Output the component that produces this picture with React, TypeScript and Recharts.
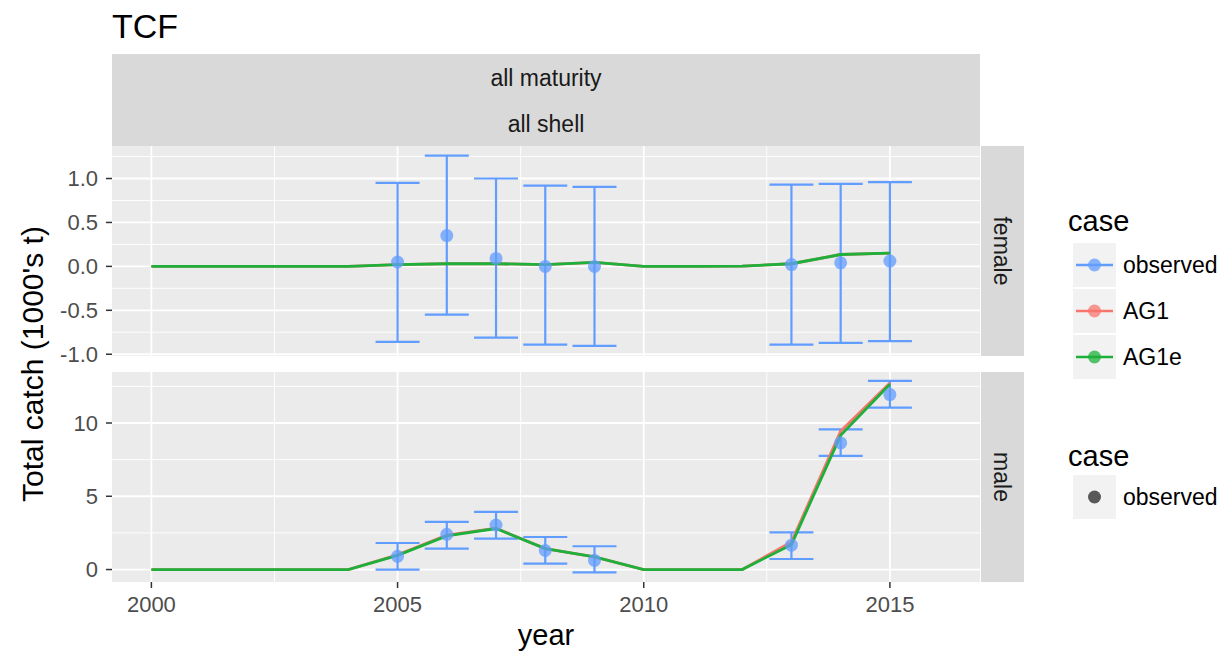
import React from "react";
import {
  ComposedChart,
  Line,
  Scatter,
  ErrorBar,
  XAxis,
  YAxis,
  CartesianGrid,
} from "recharts";

const FONT = '"Liberation Sans", Arial, Helvetica, sans-serif';

// model years and observed years
const years = [2000, 2001, 2002, 2003, 2004, 2005, 2006, 2007, 2008, 2009, 2010, 2011, 2012, 2013, 2014, 2015];
const obsYears = [2005, 2006, 2007, 2008, 2009, 2013, 2014, 2015];

// female panel
const femaleObs = [0.05, 0.35, 0.09, 0.0, 0.0, 0.02, 0.04, 0.06];
const femaleLo = [-0.86, -0.55, -0.81, -0.89, -0.905, -0.89, -0.87, -0.85];
const femaleHi = [0.95, 1.26, 1.0, 0.92, 0.905, 0.93, 0.94, 0.96];
const femaleAG1 = [0, 0, 0, 0, 0, 0.02, 0.03, 0.03, 0.02, 0.045, 0, 0, 0.003, 0.03, 0.135, 0.15];
const femaleAG1e = [0, 0, 0, 0, 0, 0.02, 0.03, 0.03, 0.02, 0.045, 0, 0, 0.003, 0.03, 0.135, 0.15];

// male panel
const maleObs = [0.9, 2.4, 3.04, 1.3, 0.63, 1.66, 8.64, 11.94];
const maleLo = [0.0, 1.43, 2.11, 0.41, -0.2, 0.72, 7.75, 11.05];
const maleHi = [1.81, 3.25, 3.93, 2.22, 1.59, 2.54, 9.57, 12.87];
const maleAG1 = [0, 0, 0, 0, 0, 1.0, 2.35, 2.82, 1.43, 0.86, 0, 0, 0, 1.88, 9.45, 12.73];
const maleAG1e = [0, 0, 0, 0, 0, 0.97, 2.29, 2.8, 1.43, 0.86, 0, 0, 0, 1.7, 9.16, 12.64];

// axes
const xTicks = [2000, 2005, 2010, 2015];
const xMinor = [2002.5, 2007.5, 2012.5];
const femaleTicks = [-1, -0.5, 0, 0.5, 1];
const femaleMinor = [-0.75, -0.25, 0.25, 0.75, 1.25];
const maleTicks = [0, 5, 10];
const maleMinor = [2.5, 7.5, 12.5];

const BLUE = "#619CFF";
const RED = "#F8766D";
const GREEN = "#1DB03A";

const obsRows = (vals: number[], lo: number[], hi: number[]) =>
  obsYears.map((year, i) => ({
    year,
    value: vals[i],
    err: [vals[i] - lo[i], hi[i] - vals[i]],
  }));

const lineRows = (vals: number[]) => years.map((year, i) => ({ year, value: vals[i] }));

const Dot = (p: any) => (
  <circle cx={p.cx} cy={p.cy} r={6.5} fill={BLUE} fillOpacity={0.75} />
);

interface PanelProps {
  top: number;
  height: number;
  margin: { top: number; right: number; bottom: number; left: number };
  obs: any[];
  ag1: any[];
  ag1e: any[];
  domain: [number, number];
  ticks: number[];
  minor: number[];
  fmt: (v: number) => string;
  showX: boolean;
}

function Panel({ top, height, margin, obs, ag1, ag1e, domain, ticks, minor, fmt, showX }: PanelProps) {
  return (
    <div style={{ position: "absolute", left: 0, top }}>
      <ComposedChart width={1228} height={height} margin={margin}>
        <CartesianGrid
          fill="#EBEBEB"
          stroke="#FFFFFF"
          strokeWidth={0.9}
          horizontalValues={minor}
          verticalValues={xMinor}
        />
        <CartesianGrid
          fill="none"
          stroke="#FFFFFF"
          strokeWidth={1.8}
          horizontalValues={ticks}
          verticalValues={xTicks}
        />
        <XAxis
          type="number"
          dataKey="year"
          domain={[1999.2, 2016.83]}
          allowDataOverflow
          ticks={xTicks}
          interval={0}
          hide={!showX}
          height={30}
          tickSize={6}
          tickMargin={8}
          axisLine={false}
          tickLine={{ stroke: "#333333", strokeWidth: 1.5 }}
          tick={{ fontSize: 22, fill: "#4D4D4D", fontFamily: FONT }}
        />
        <YAxis
          type="number"
          dataKey="value"
          domain={domain}
          allowDataOverflow
          ticks={ticks}
          interval={0}
          tickFormatter={fmt}
          width={60}
          tickSize={6}
          tickMargin={8}
          axisLine={false}
          tickLine={{ stroke: "#333333", strokeWidth: 1.5 }}
          tick={{ fontSize: 22, fill: "#4D4D4D", fontFamily: FONT }}
        />
        <Scatter data={obs} dataKey="value" shape={Dot} isAnimationActive={false}>
          <ErrorBar
            dataKey="err"
            direction="y"
            width={22}
            stroke={BLUE}
            strokeWidth={2.2}
            isAnimationActive={false}
          />
        </Scatter>
        <Line
          data={ag1}
          dataKey="value"
          type="linear"
          stroke={RED}
          strokeWidth={2.8}
          dot={false}
          isAnimationActive={false}
        />
        <Line
          data={ag1e}
          dataKey="value"
          type="linear"
          stroke={GREEN}
          strokeWidth={2.8}
          dot={false}
          isAnimationActive={false}
        />
      </ComposedChart>
    </div>
  );
}

const legendKeys = [
  { label: "observed", color: BLUE },
  { label: "AG1", color: RED },
  { label: "AG1e", color: GREEN },
];

function Decorations() {
  return (
    <svg width={1228} height={656} style={{ position: "absolute", left: 0, top: 0 }} fontFamily={FONT}>
      <text x={112} y={38} fontSize={34} fill="#000">TCF</text>

      {/* top strips */}
      <rect x={112} y={54} width={868} height={92} fill="#D9D9D9" />
      <text x={546} y={78} fontSize={23} fill="#1A1A1A" textAnchor="middle" dominantBaseline="central">
        all maturity
      </text>
      <text x={546} y={124} fontSize={23} fill="#1A1A1A" textAnchor="middle" dominantBaseline="central">
        all shell
      </text>

      {/* right strips */}
      <rect x={981} y={146} width={43} height={210} fill="#D9D9D9" />
      <rect x={981} y={372} width={43} height={210} fill="#D9D9D9" />
      <text
        transform="translate(1002,251) rotate(90)"
        fontSize={23}
        fill="#1A1A1A"
        textAnchor="middle"
        dominantBaseline="central"
      >
        female
      </text>
      <text
        transform="translate(1002,477) rotate(90)"
        fontSize={23}
        fill="#1A1A1A"
        textAnchor="middle"
        dominantBaseline="central"
      >
        male
      </text>

      {/* axis titles */}
      <text
        transform="translate(32,364) rotate(-90)"
        fontSize={30}
        fill="#000"
        textAnchor="middle"
        dominantBaseline="central"
      >
        Total catch (1000's t)
      </text>
      <text x={546} y={645} fontSize={29} fill="#000" textAnchor="middle">
        year
      </text>

      {/* legend 1 */}
      <text x={1068} y={231} fontSize={29} fill="#000">case</text>
      {legendKeys.map((k, i) => {
        const cy = 265 + i * 46;
        return (
          <g key={k.label}>
            <rect x={1073} y={cy - 22} width={43} height={44} fill="#F2F2F2" />
            <line x1={1076} x2={1113} y1={cy} y2={cy} stroke={k.color} strokeWidth={2.5} />
            <circle cx={1094.5} cy={cy} r={6.5} fill={k.color} fillOpacity={0.75} />
            <text x={1123} y={cy} fontSize={23} fill="#000" dominantBaseline="central">
              {k.label}
            </text>
          </g>
        );
      })}

      {/* legend 2 */}
      <text x={1068} y={466} fontSize={29} fill="#000">case</text>
      <rect x={1073} y={475} width={43} height={44} fill="#F2F2F2" />
      <circle cx={1094.5} cy={497} r={6.5} fill="#595959" />
      <text x={1123} y={497} fontSize={23} fill="#000" dominantBaseline="central">
        observed
      </text>
    </svg>
  );
}

export default function App() {
  return (
    <div
      style={{
        position: "absolute",
        left: 0,
        top: 0,
        width: 1228,
        height: 656,
        background: "#FFFFFF",
        fontFamily: FONT,
        overflow: "hidden",
      }}
    >
      <Decorations />
      <Panel
        top={0}
        height={372}
        margin={{ top: 146, right: 248, bottom: 16, left: 52 }}
        obs={obsRows(femaleObs, femaleLo, femaleHi)}
        ag1={lineRows(femaleAG1)}
        ag1e={lineRows(femaleAG1e)}
        domain={[-1.02, 1.37]}
        ticks={femaleTicks}
        minor={femaleMinor}
        fmt={(v) => v.toFixed(1)}
        showX={false}
      />
      <Panel
        top={366}
        height={290}
        margin={{ top: 6, right: 248, bottom: 44, left: 52 }}
        obs={obsRows(maleObs, maleLo, maleHi)}
        ag1={lineRows(maleAG1)}
        ag1e={lineRows(maleAG1e)}
        domain={[-0.85, 13.48]}
        ticks={maleTicks}
        minor={maleMinor}
        fmt={(v) => String(v)}
        showX={true}
      />
    </div>
  );
}
